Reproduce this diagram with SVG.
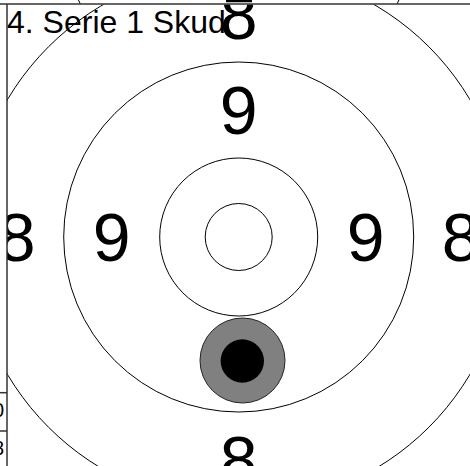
<svg xmlns="http://www.w3.org/2000/svg" width="470" height="466" viewBox="0 0 470 466">
<style>
.ring{fill:none;stroke:#000;stroke-width:1}
.num{font-family:"Liberation Sans",Arial,sans-serif;font-size:68px;fill:#000;text-anchor:middle}
.frame{stroke:#333;stroke-width:1.5;fill:none}
.small{font-family:"Liberation Sans",Arial,sans-serif;font-size:20px;fill:#000;text-anchor:end}
</style>
<defs>
<clipPath id="panel"><rect x="7" y="4.5" width="463" height="462"/></clipPath>
<clipPath id="above"><rect x="7" y="0" width="463" height="4"/></clipPath>
<clipPath id="left"><rect x="0" y="0" width="7" height="466"/></clipPath>
</defs>
<rect width="470" height="466" fill="#fff"/>
<g id="above-panel" clip-path="url(#above)">
<circle class="ring" cx="238.7" cy="-70" r="175"/>
<line x1="226" y1="1" x2="252" y2="1" stroke="#000" stroke-width="2.5"/>
</g>
<g id="left-panel" clip-path="url(#left)">
<line class="frame" x1="0" y1="392.7" x2="7" y2="392.7"/>
<line class="frame" x1="0" y1="431" x2="7" y2="431"/>
<text class="small" x="4" y="417">0</text>
<text class="small" x="4" y="455">8</text>
</g>
<g id="target" clip-path="url(#panel)">
<circle class="ring" cx="238.7" cy="237" r="269"/>
<circle class="ring" cx="238.7" cy="237" r="175"/>
<circle class="ring" cx="238.7" cy="237" r="79"/>
<circle class="ring" cx="238.7" cy="237" r="33.5"/>
<text class="num" x="238.7" y="39">8</text>
<text class="num" x="238.7" y="484">8</text>
<text class="num" x="16.7" y="261">8</text>
<text class="num" x="460.7" y="261">8</text>
<text class="num" x="238.7" y="134">9</text>
<text class="num" x="111.7" y="261">9</text>
<text class="num" x="365.7" y="261">9</text>
<g id="shot">
<circle cx="242.5" cy="360.5" r="42.5" fill="#808080" stroke="#222" stroke-width="1"/>
<circle cx="242.3" cy="361" r="21.7" fill="#000"/>
</g>
</g>
<text id="title" x="7" y="33" font-family="Liberation Sans, Arial, sans-serif" font-size="32" fill="#000">4. Serie 1 Skud</text>
<g id="frame">
<line class="frame" x1="0" y1="4" x2="470" y2="4"/>
<line class="frame" x1="7" y1="4" x2="7" y2="466"/>
</g>
</svg>
